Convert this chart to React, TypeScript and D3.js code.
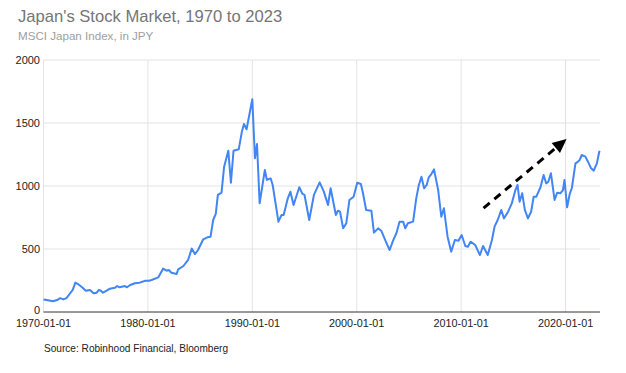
import * as d3 from "d3";

const WIDTH = 626;
const HEIGHT = 373;
const MARGIN = { top: 60, right: 26, bottom: 61, left: 43.5 };

const TITLE = "Japan's Stock Market, 1970 to 2023";
const SUBTITLE = "MSCI Japan Index, in JPY";
const SOURCE = "Source: Robinhood Financial, Bloomberg";

// decimal years
const years = [
  1970.0, 1970.3, 1970.9, 1971.3, 1971.6, 1971.9, 1972.2, 1972.5, 1972.8, 1973.05,
  1973.3, 1973.75, 1974.05, 1974.45, 1974.8, 1975.1, 1975.3, 1975.5, 1975.7, 1976.05,
  1976.35, 1976.85, 1977.05, 1977.3, 1977.8, 1978.0, 1978.3, 1978.75, 1979.2, 1979.75,
  1980.1, 1980.35, 1981.0, 1981.45, 1981.8, 1982.0, 1982.25, 1982.75, 1982.9, 1983.4,
  1983.85, 1984.2, 1984.5, 1984.8, 1985.3, 1985.7, 1986.0, 1986.25, 1986.5, 1986.7,
  1987.05, 1987.3, 1987.7, 1987.95, 1988.2, 1988.7, 1989.0, 1989.2, 1989.45, 1990.0,
  1990.25, 1990.45, 1990.7, 1991.2, 1991.4, 1991.75, 1991.95, 1992.5, 1992.8, 1993.0,
  1993.4, 1993.65, 1993.95, 1994.5, 1994.8, 1995.0, 1995.45, 1995.9, 1996.45, 1996.85,
  1997.25, 1997.5, 1998.0, 1998.2, 1998.4, 1998.7, 1999.0, 1999.3, 1999.7, 2000.05,
  2000.4, 2000.6, 2000.9, 2001.4, 2001.65, 2002.05, 2002.35, 2002.75, 2003.15, 2003.5,
  2003.8, 2004.1, 2004.45, 2004.65, 2004.9, 2005.4, 2005.7, 2005.95, 2006.2, 2006.45,
  2006.7, 2006.9, 2007.15, 2007.4, 2007.8, 2008.1, 2008.35, 2008.7, 2009.05, 2009.4,
  2009.75, 2010.05, 2010.4, 2010.65, 2010.9, 2011.35, 2011.8, 2012.1, 2012.55, 2012.95,
  2013.2, 2013.5, 2013.85, 2014.1, 2014.5, 2014.85, 2015.2, 2015.4, 2015.6, 2015.85,
  2016.1, 2016.4, 2016.7, 2016.95, 2017.2, 2017.6, 2017.9, 2018.15, 2018.35, 2018.6,
  2018.95, 2019.2, 2019.5, 2019.75, 2019.9, 2020.15, 2020.4, 2020.6, 2020.95, 2021.2,
  2021.35, 2021.55, 2021.9, 2022.15, 2022.45, 2022.7, 2023.0, 2023.25,
];

const values = [
  100, 95, 85, 95, 110, 100, 110, 143, 175, 233,
  222, 193, 169, 175, 148, 153, 175, 169, 153, 169,
  185, 193, 206, 196, 206, 196, 214, 228, 233, 248,
  248, 254, 275, 344, 328, 333, 312, 302, 339, 365,
  413, 503, 460, 492, 577, 593, 598, 730, 778, 929,
  947, 1153, 1280, 1026, 1280, 1291, 1431, 1492, 1450, 1688,
  1220, 1333, 863, 1127, 1048, 1061, 1008, 717, 770, 770,
  902, 955, 849, 990, 937, 929, 730, 929, 1029, 955,
  849, 982, 770, 804, 796, 664, 704, 889, 915, 1026,
  1016, 942, 810, 804, 630, 664, 645, 566, 492, 571,
  625, 717, 717, 664, 704, 717, 902, 1008, 1074, 982,
  1008, 1069, 1095, 1132, 968, 756, 823, 598, 479, 571,
  566, 611, 524, 518, 558, 532, 452, 524, 452, 571,
  677, 730, 810, 743, 796, 862, 968, 1008, 875, 942,
  810, 743, 796, 915, 915, 990, 1087, 1021, 1034, 1101,
  889, 947, 942, 968, 1048, 831, 937, 982, 1180, 1193,
  1206, 1246, 1233, 1193, 1140, 1122, 1180, 1280,
];

const yTicks = [0, 500, 1000, 1500, 2000];
const xTicks = [1970, 1980, 1990, 2000, 2010, 2020];

// trend arrow: [year, value] start and end
const arrowFrom = [2012.15, 825];
const arrowTo = [2020.1, 1373];

const FONT = "Arial, 'Liberation Sans', sans-serif";

export default function App() {
  const points = years.map((y, i) => ({ x: y, y: values[i] }));

  const x = d3
    .scaleLinear()
    .domain([1970, 2023.3])
    .range([MARGIN.left, WIDTH - MARGIN.right]);

  const y = d3
    .scaleLinear()
    .domain([0, 2000])
    .range([HEIGHT - MARGIN.bottom, MARGIN.top]);

  const line = d3
    .line<{ x: number; y: number }>()
    .x((d) => x(d.x))
    .y((d) => y(d.y));

  const ax1 = x(arrowFrom[0]);
  const ay1 = y(arrowFrom[1]);
  const ax2 = x(arrowTo[0]);
  const ay2 = y(arrowTo[1]);
  const ang = Math.atan2(ay2 - ay1, ax2 - ax1);
  const headLen = 14;
  const headW = 6.5;
  const bx = ax2 - headLen * Math.cos(ang);
  const by = ay2 - headLen * Math.sin(ang);
  const head = [
    [ax2, ay2],
    [bx + headW * Math.sin(ang), by - headW * Math.cos(ang)],
    [bx - headW * Math.sin(ang), by + headW * Math.cos(ang)],
  ];

  const [x0, x1] = x.range();
  const [yb, yt] = y.range();

  return (
    <svg
      width={WIDTH}
      height={HEIGHT}
      style={{ position: "absolute", left: 0, top: 0, background: "#fff" }}
      fontFamily={FONT}
    >
      <text x={18} y={22} fontSize={16.6} fill="#757575">
        {TITLE}
      </text>
      <text x={18} y={40} fontSize={11.6} fill="#9e9e9e">
        {SUBTITLE}
      </text>

      {yTicks.map((t) => (
        <g key={t}>
          {t > 0 && (
            <line x1={x0} x2={x1} y1={y(t)} y2={y(t)} stroke="#e3e3e3" strokeWidth={1} />
          )}
          <text
            x={40}
            y={t === 0 ? y(t) - 1.5 : y(t)}
            dy="0.32em"
            textAnchor="end"
            fontSize={11}
            fill="#222"
          >
            {t}
          </text>
        </g>
      ))}

      {xTicks.map((t) => (
        <g key={t}>
          {t > 1970 && (
            <line x1={x(t)} x2={x(t)} y1={yb} y2={yt} stroke="#e3e3e3" strokeWidth={1} />
          )}
          <text x={x(t)} y={yb + 14.5} textAnchor="middle" fontSize={10.8} fill="#222">
            {`${t}-01-01`}
          </text>
        </g>
      ))}

      <line x1={x0} x2={x0} y1={yb} y2={yt} stroke="#e3e3e3" strokeWidth={1} />
      <line x1={x0} x2={x1} y1={yb} y2={yb} stroke="#333" strokeWidth={1} />

      <path
        d={line(points) ?? ""}
        fill="none"
        stroke="#4285f4"
        strokeWidth={2}
        strokeLinejoin="round"
      />

      <line
        x1={ax1}
        y1={ay1}
        x2={bx}
        y2={by}
        stroke="#000"
        strokeWidth={3}
        strokeDasharray="8 6"
      />
      <polygon points={head.map((p) => p.join(",")).join(" ")} fill="#000" />

      <text x={44} y={352} fontSize={10.1} fill="#222">
        {SOURCE}
      </text>
    </svg>
  );
}
